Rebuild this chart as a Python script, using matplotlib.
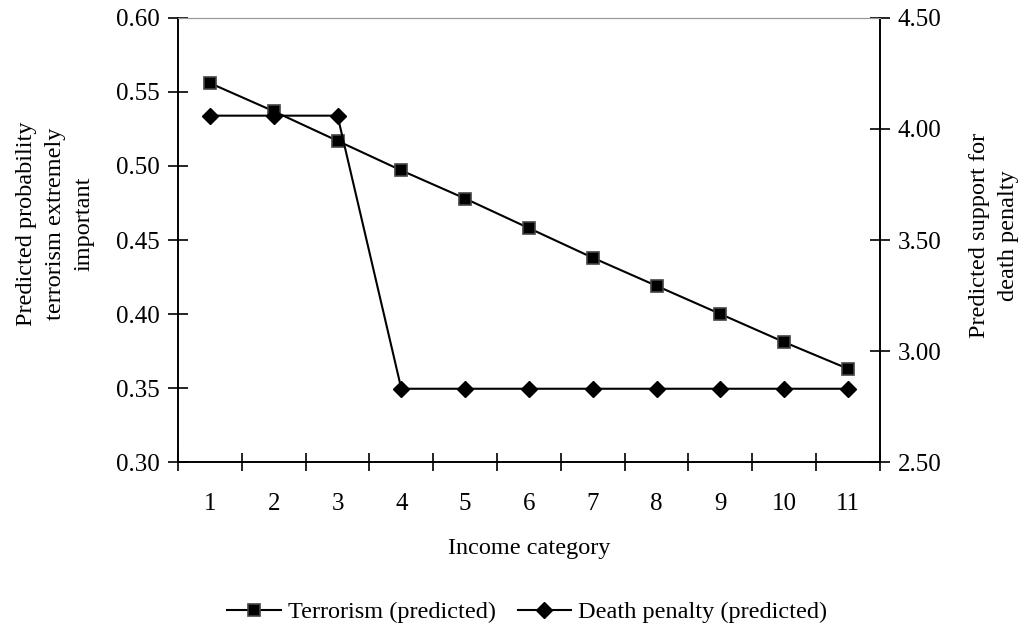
import matplotlib.pyplot as plt

plt.rcParams['font.family'] = ['Liberation Serif', 'DejaVu Serif']

# data
categories = [1, 2, 3, 4, 5, 6, 7, 8, 9, 10, 11]
terrorism = [0.556, 0.537, 0.517, 0.497, 0.478, 0.458, 0.438, 0.419, 0.400, 0.381, 0.363]
death_penalty = [4.06, 4.06, 4.06, 2.83, 2.83, 2.83, 2.83, 2.83, 2.83, 2.83, 2.83]
left_ticks = [0.30, 0.35, 0.40, 0.45, 0.50, 0.55, 0.60]
right_ticks = [2.50, 3.00, 3.50, 4.00, 4.50]

fig = plt.figure(figsize=(10.24, 6.31), dpi=100)
ax = fig.add_axes([0.1738, 0.2678, 0.6855, 0.7037])
ax2 = ax.twinx()

l1, = ax.plot(categories, terrorism, color='black', lw=1.5, marker='s', ms=9,
              mfc='black', mec='#444444', mew=1.2, label='Terrorism (predicted)')
l2, = ax2.plot(categories, death_penalty, color='black', lw=1.5, marker='D', ms=8,
               mfc='black', mec='black', label='Death penalty (predicted)')

ax.set_xlim(0.5, 11.5)
ax.set_ylim(0.30, 0.60)
ax2.set_ylim(2.50, 4.50)

ax.set_yticks(left_ticks)
ax.set_yticklabels([f'{v:.2f}' for v in left_ticks])
ax2.set_yticks(right_ticks)
ax2.set_yticklabels([f'{v:.2f}' for v in right_ticks])

# category axis: ticks between categories, labels centred
ax.set_xticks([c - 0.5 for c in categories] + [categories[-1] + 0.5])
ax.set_xticklabels([])
ax.set_xticks(categories, minor=True)
ax.set_xticklabels([str(c) for c in categories], minor=True)
ax.tick_params(axis='x', which='major', direction='inout', length=13, width=1.2)
ax.tick_params(axis='x', which='minor', length=0, pad=22, labelsize=18)

ax.tick_params(axis='y', direction='inout', length=14, width=1.2, labelsize=18, pad=6)
ax2.tick_params(axis='y', direction='inout', length=14, width=1.2, labelsize=18, pad=6)

for a in (ax, ax2):
    a.spines['top'].set_color('#999999')
    a.spines['left'].set_linewidth(1.2)
    a.spines['right'].set_linewidth(1.2)
    a.spines['bottom'].set_linewidth(1.2)

ax.set_xlabel('Income category', fontsize=17.5, labelpad=17)
ax.set_ylabel('Predicted probability\nterrorism extremely\nimportant', fontsize=17.5,
              linespacing=1.5, va='center')
ax.yaxis.set_label_coords(-0.175, 0.536)
ax2.set_ylabel('Predicted support for\ndeath penalty', fontsize=17.5,
               linespacing=1.5, va='center')
ax2.yaxis.set_label_coords(1.163, 0.51)

fig.legend(handles=[l1, l2], loc='center', bbox_to_anchor=(0.515, 0.03), ncol=2,
           frameon=False, fontsize=17.5, handlelength=2.2, columnspacing=0.9,
           handletextpad=0.3)

fig.savefig('out.png', dpi=100)
